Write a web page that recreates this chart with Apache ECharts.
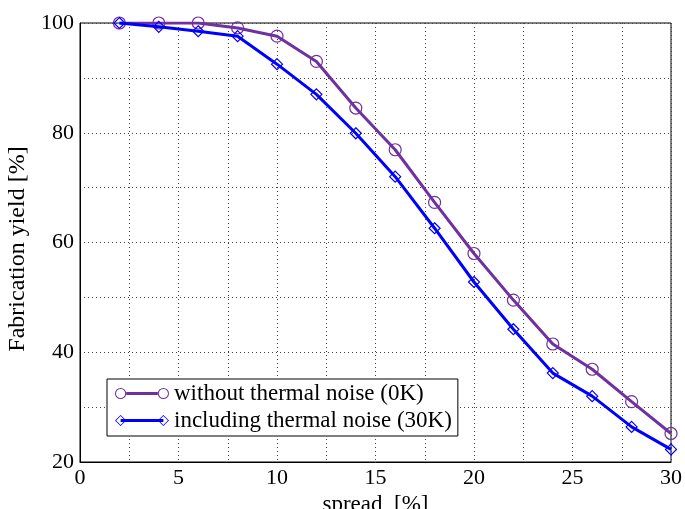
<!DOCTYPE html>
<html>
<head>
<meta charset="utf-8">
<script src="https://cdn.jsdelivr.net/npm/echarts@6/dist/echarts.min.js"></script>
<style>html,body{margin:0;padding:0;background:#fff}#c{width:685px;height:509px}</style>
</head>
<body>
<div id="c"></div>
<script>
var spread = [2, 4, 6, 8, 10, 12, 14, 16, 18, 20, 22, 24, 26, 28, 30];
var yieldNoNoise = [100, 100, 100, 99.1, 97.6, 93.0, 84.5, 76.9, 67.3, 58.0, 49.5, 41.5, 36.9, 31.0, 25.2];
var yieldNoise = [100, 99.3, 98.5, 97.6, 92.5, 87.0, 79.9, 72.0, 62.6, 52.8, 44.2, 36.2, 32.0, 26.4, 22.3];
var seriesNames = ['without thermal noise (0K)', 'including thermal noise (30K)'];
var xTickLabels = ['0', '5', '10', '15', '20', '25', '30'];
var yTickLabels = ['20', '40', '60', '80', '100'];

var purple = '#7030A0';
var blue = '#0000FF';
var FONT = '"Liberation Serif", "DejaVu Serif", serif';

function pairs(xs, ys) { return xs.map(function (x, i) { return [x, ys[i]]; }); }

var ringIcon = 'path://M0.5 6A5.5 5.5 0 1 1 11.5 6A5.5 5.5 0 1 1 0.5 6Z' +
  'M1.5 6A4.5 4.5 0 1 0 10.5 6A4.5 4.5 0 1 0 1.5 6Z' +
  'M42.5 6A5.5 5.5 0 1 1 53.5 6A5.5 5.5 0 1 1 42.5 6Z' +
  'M43.5 6A4.5 4.5 0 1 0 52.5 6A4.5 4.5 0 1 0 43.5 6Z' +
  'M11.5 4.6L42.5 4.6L42.5 7.4L11.5 7.4Z';
var diamondIcon = 'path://M6 0.5L11.5 6L6 11.5L0.5 6Z' +
  'M6 1.6L1.6 6L6 10.4L10.4 6Z' +
  'M48 0.5L53.5 6L48 11.5L42.5 6Z' +
  'M48 1.6L43.6 6L48 10.4L52.4 6Z' +
  'M6 4.6L48 4.6L48 7.4L6 7.4Z';

var chart = echarts.init(document.getElementById('c'), null, {renderer: 'canvas'});
chart.setOption({
  animation: false,
  backgroundColor: '#fff',
  textStyle: {fontFamily: FONT},
  grid: {left: 80, right: 14, top: 23, bottom: 47, containLabel: false, outerBoundsMode: 'none',
    show: true, borderColor: '#000', borderWidth: 1, backgroundColor: 'transparent'},
  legend: {
    orient: 'vertical',
    left: 107, top: 379,
    padding: [3, 6, 4, 8],
    itemGap: 4,
    itemWidth: 54, itemHeight: 12,
    backgroundColor: '#fff',
    borderColor: '#000', borderWidth: 1, borderRadius: 0,
    textStyle: {fontFamily: FONT, fontSize: 23, color: '#000', lineHeight: 23},
    data: [
      {name: seriesNames[0], icon: ringIcon, itemStyle: {color: purple, borderWidth: 0}},
      {name: seriesNames[1], icon: diamondIcon, itemStyle: {color: blue, borderWidth: 0}}
    ]
  },
  xAxis: {
    type: 'value', min: 0, max: 30, interval: 2.5,
    name: 'spread  [%]', nameLocation: 'middle', nameGap: 23,
    nameTextStyle: {fontFamily: FONT, fontSize: 23, color: '#000'},
    axisLine: {lineStyle: {color: '#000', width: 1}},
    axisTick: {show: false},
    axisLabel: {
      fontFamily: FONT, fontSize: 22, color: '#000', margin: 5,
      formatter: function (v) { var s = String(v); return xTickLabels.indexOf(s) >= 0 ? s : ''; }
    },
    splitLine: {show: true, lineStyle: {color: '#444', type: [1, 3], width: 1}}
  },
  yAxis: {
    type: 'value', min: 20, max: 100, interval: 10,
    name: 'Fabrication yield [%]', nameLocation: 'middle', nameGap: 38, nameRotate: 90,
    nameTextStyle: {fontFamily: FONT, fontSize: 24, color: '#000', padding: [0, 13, 0, 0]},
    axisLine: {show: true, lineStyle: {color: '#000', width: 1}},
    axisTick: {show: false},
    axisLabel: {
      fontFamily: FONT, fontSize: 22, color: '#000', margin: 6,
      formatter: function (v) { var s = String(v); return yTickLabels.indexOf(s) >= 0 ? s : ''; }
    },
    splitLine: {show: true, lineStyle: {color: '#444', type: [1, 3], width: 1}}
  },
  series: [
    {
      name: seriesNames[0], type: 'line', data: pairs(spread, yieldNoNoise),
      symbol: 'circle', symbolSize: 12, showAllSymbol: true,
      lineStyle: {color: purple, width: 3},
      itemStyle: {color: 'rgba(0,0,0,0)', borderColor: purple, borderWidth: 1.2},
      z: 2
    },
    {
      name: seriesNames[1], type: 'line', data: pairs(spread, yieldNoise),
      symbol: 'diamond', symbolSize: 11, showAllSymbol: true,
      lineStyle: {color: blue, width: 3},
      itemStyle: {color: 'rgba(0,0,0,0)', borderColor: blue, borderWidth: 1.2},
      z: 3
    }
  ]
});
</script>
</body>
</html>
